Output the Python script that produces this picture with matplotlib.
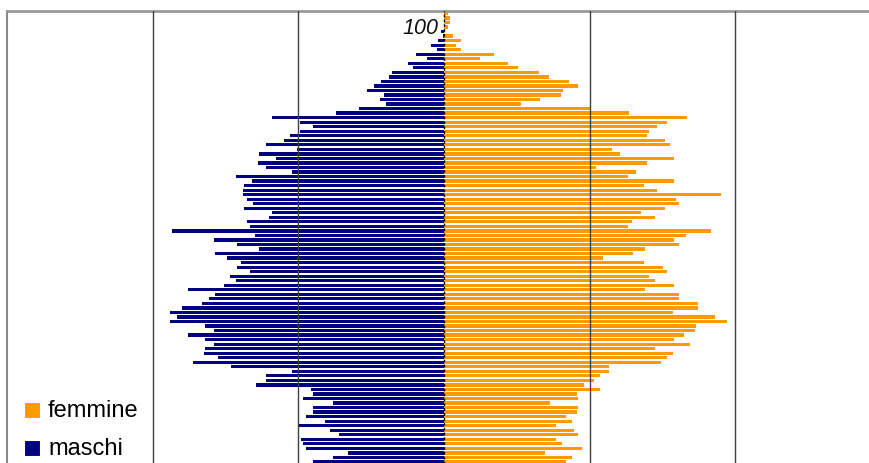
import matplotlib
matplotlib.use('Agg')
import matplotlib.pyplot as plt
from matplotlib.patches import Rectangle

# ages from top (103) down to 4 (lower ages are cropped out of the picture)
ages = list(range(103, 3, -1))

maschi = [0, 0, 0, 0, 2, 1, 4, 9, 5, 19, 12, 25, 21, 36, 38, 43, 48, 53, 41,
          44, 40, 58, 74, 118, 99, 90, 99, 106, 110, 122, 101, 127, 115, 128, 122, 104, 143, 132, 137, 138, 138, 135, 131, 137, 118, 120,
          135, 133, 187, 130, 158, 142, 127, 157, 149, 139, 142, 133, 147, 143, 151, 176, 157, 161, 166, 180, 188, 183, 188, 164, 158, 176, 164,
          158, 164, 165, 155, 172, 146, 104, 122, 122, 129, 91, 90, 97, 76, 90, 90, 95, 82, 100, 78, 72, 98, 97, 95, 66, 76, 90]

femmine = [3, 4, 4, 3, 1, 6, 12, 8, 12, 34, 25, 44, 51, 65, 72, 86, 92, 82, 80,
           66, 53, 100, 127, 167, 153, 146, 141, 139, 152, 155, 115, 121, 158, 139, 104, 132, 126, 158, 137, 146, 190, 159, 161, 152, 135, 145,
           129, 126, 183, 166, 158, 161, 138, 130, 109, 137, 150, 153, 141, 145, 158, 138, 161, 161, 174, 174, 157, 186, 194, 173, 172, 165, 158,
           169, 145, 157, 153, 149, 113, 113, 107, 103, 96, 107, 91, 92, 73, 92, 91, 84, 88, 77, 89, 92, 77, 81, 95, 69, 88, 84]

legend_labels = ['femmine', 'maschi']
age_label = '100'
grid_values = [-200, -100, 100, 200]

COL_M = '#000080'
COL_F = '#FF9900'

W, H = 869, 464
fig = plt.figure(figsize=(W / 100, H / 100), dpi=100)
fig.patch.set_facecolor('white')

left_px, top_px, right_px, bottom_px = 6.9, 12.2, 881.1, 465.2
ax = fig.add_axes([left_px / W, (H - bottom_px) / H, (right_px - left_px) / W, (bottom_px - top_px) / H])

ax.barh(ages, [-m for m in maschi], height=0.72, color=COL_M, zorder=2, linewidth=0)
ax.barh(ages, femmine, height=0.72, color=COL_F, zorder=2, linewidth=0)

ax.set_xlim(-300, 300)
ax.set_ylim(3.5, 103.5)
ax.set_xticks([])
ax.set_yticks([])

for gx in grid_values:
    ax.axvline(gx, color='#404040', lw=1.0, zorder=3)
ax.axvline(0, color='black', lw=1.0, ls=(0, (2, 1.5)), zorder=4)

ax.spines['top'].set_color('#9a9a9a')
ax.spines['top'].set_linewidth(2)
ax.spines['left'].set_color('#8a8a8a')
ax.spines['left'].set_linewidth(1.5)
ax.spines['right'].set_visible(False)
ax.spines['bottom'].set_visible(False)

ax.text(-4, 100, age_label, ha='right', va='center', fontsize=15.5, style='italic',
        family='Liberation Sans', color='#111111', zorder=5)

# legend (inside, lower-left)
sq = 16
leg_items = [(legend_labels[0], COL_F, 411), (legend_labels[1], COL_M, 449)]
for label, col, yc in leg_items:
    fig.patches.append(Rectangle((24 / W, (H - yc - sq / 2) / H), sq / W, sq / H,
                                 transform=fig.transFigure, facecolor=col,
                                 edgecolor='white', linewidth=0.8, zorder=6))
    fig.text(48 / W, (H - yc) / H, label, ha='left', va='center', fontsize=17,
             family='Liberation Sans', color='black', zorder=6)

fig.savefig('out.png', dpi=100)
